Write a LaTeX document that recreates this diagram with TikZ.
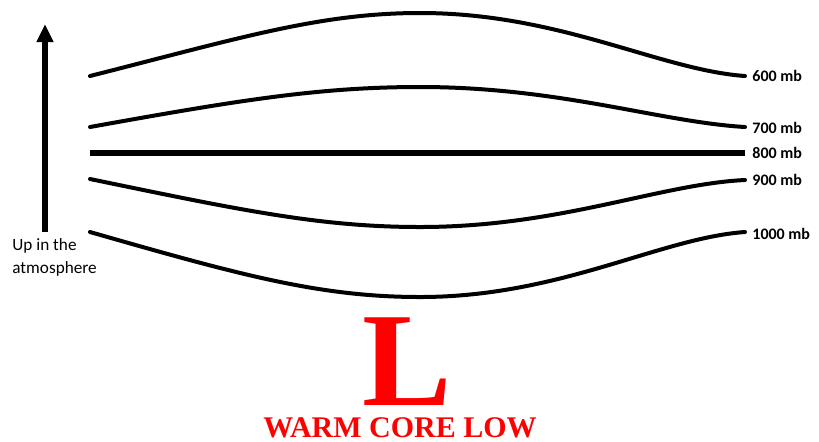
\documentclass[tikz,border=0pt]{standalone}
\usepackage{fontspec}
\setmainfont{Carlito}
\newfontfamily\timesfont{Liberation Serif}
\usetikzlibrary{arrows.meta}

\tikzstyle{level} = [line width=2pt, line cap=round]
\tikzstyle{flat} = [line width=2.6pt]
\tikzstyle{mblabel} = [anchor=west, inner sep=0pt, font=\fontsize{8}{9}\selectfont\bfseries]
\tikzstyle{uparrow} = [line width=2.6pt, -{Triangle[length=9pt,width=8pt]}]
\tikzstyle{lowtext} = [text=red, inner sep=0pt, anchor=base, text depth=0pt, font=\timesfont\bfseries]

\begin{document}
\begin{tikzpicture}[x=0.5pt,y=-0.5pt]

\useasboundingbox (0,0) rectangle (819,441);

	%Ends of the pressure surfaces
	\coordinate (L600) at (90,76);   \coordinate (R600) at (745,76);
	\coordinate (L700) at (90,127);  \coordinate (R700) at (745,127);
	\coordinate (L800) at (90,153);  \coordinate (R800) at (745,153);
	\coordinate (L900) at (90,179);  \coordinate (R900) at (745,180);
	\coordinate (L1000) at (90,232); \coordinate (R1000) at (745,232);

	%Pressure surfaces
	\draw[level] (L600) .. controls (240,38) and (320,13) .. (420,13) .. controls (560,13) and (660,70) .. (R600);
	\draw[level] (L700) .. controls (240,100) and (320,87) .. (420,87) .. controls (560,87) and (660,122) .. (R700);
	\draw[flat] (L800) -- (R800);
	\draw[level] (L900) .. controls (240,210) and (320,227) .. (420,227) .. controls (560,227) and (660,184) .. (R900);
	\draw[level] (L1000) .. controls (240,275) and (320,297) .. (420,297) .. controls (560,297) and (660,238) .. (R1000);

	%Labels for the levels
	\node[mblabel](T600) at ([xshift=3.5pt]R600) {600 mb};
	\node[mblabel](T700) at ([xshift=3.5pt,yshift=-0.5pt]R700) {700 mb};
	\node[mblabel](T800) at ([xshift=3.5pt]R800) {800 mb};
	\node[mblabel](T900) at ([xshift=3.5pt]R900) {900 mb};
	\node[mblabel](T1000) at ([xshift=3.5pt,yshift=-1pt]R1000) {1000 mb};

	%Height arrow
	\coordinate (Abot) at (45,232);
	\coordinate (Atop) at (45,24);
	\draw[uparrow] (Abot) -- (Atop);
	\node[anchor=north west, inner sep=0pt, align=left, font=\fontsize{8.6}{11.5}\selectfont](Up) at (12,238) {Up in the\\atmosphere};

	%Low centre
	\node[lowtext, font=\timesfont\bfseries\fontsize{67}{67}\selectfont](Low) at (407,405) {L};
	\node[lowtext, font=\timesfont\bfseries\fontsize{15}{15}\selectfont](WCL) at (400,437) {WARM CORE LOW};

\end{tikzpicture}
\end{document}
